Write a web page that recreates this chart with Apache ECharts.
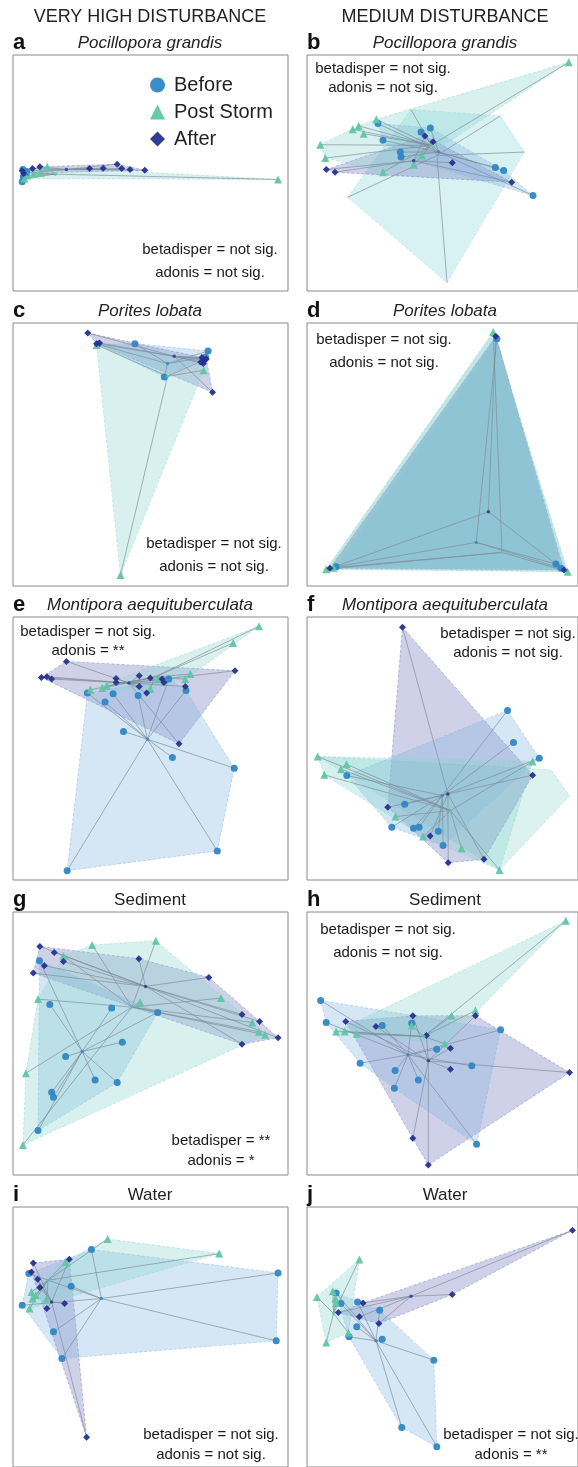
<!DOCTYPE html>
<html>
<head>
<meta charset="utf-8">
<script src="https://cdn.jsdelivr.net/npm/echarts@6/dist/echarts.min.js"></script>
<style>
  html, body { margin: 0; padding: 0; background: #fff; }
  #chart { width: 578px; height: 1467px; }
</style>
</head>
<body>
<div id="chart"></div>
<script>
// ordination scores, one set per panel (x right, y down)
// centroid arrays are in the order Before, Post Storm, After
var aBefore = [[62,508],[60,545],[66,520],[72,514],[63,530]];
var aPost = [[755,538],[128,500],[75,526],[92,520],[66,535],[110,518]];
var aAfter = [[60,512],[64,520],[88,505],[108,500],[243,505],[280,504],[318,492],[330,505],[353,508],[393,510]];
var aCent = [[75,522],[150,522],[180,508]];

var bBefore = [[213,205],[228,255],[280,290],[282,305],[342,230],[370,218],[565,336],[590,345],[678,420]];
var bPost = [[785,22],[40,268],[55,308],[137,222],[155,212],[170,235],[208,192],[228,350],[320,328],[345,300]];
var bAfter = [[58,342],[84,350],[354,242],[378,259],[436,322],[614,380]];
var bCent = [[395,290],[372,270],[320,316]];
var bOther = [[122,425],[420,680],[652,290],[580,182],[312,163]];
var bOtherCent = [390,300];

var cBefore = [[265,132],[366,130],[446,230],[565,152],[558,170]];
var cPost = [[327,825],[553,210],[262,134],[548,182]];
var cAfter = [[238,98],[262,130],[270,128],[548,172],[556,180],[552,190],[560,176],[545,185],[577,276]];
var cCent = [[455,190],[455,228],[473,168]];

var dBefore = [[1348,115],[912,800],[1508,792],[1522,805]];
var dPost = [[1338,95],[885,808],[1540,815],[905,803]];
var dAfter = [[1345,108],[895,805],[1530,810]];
var dCent = [[1292,727],[1362,757],[1325,635]];

var eBefore = [[237,310],[285,337],[307,312],[375,317],[458,268],[505,302],[335,425],[468,503],[636,535],[590,783],[182,842]];
var ePost = [[703,110],[633,160],[517,253],[503,268],[432,265],[408,298],[290,288],[278,295],[245,300]];
var eAfter = [[180,215],[112,263],[127,261],[140,268],[315,266],[315,278],[378,258],[378,290],[408,265],[440,268],[445,278],[503,290],[398,310],[486,462],[638,243]];
var eCent = [[400,448],[420,262],[350,280]];

var fBefore = [[1377,362],[1393,458],[1463,505],[941,557],[1098,643],[1063,712],[1122,715],[1137,712],[1189,724],[1202,767]];
var fPost = [[862,500],[925,538],[940,523],[880,555],[1445,515],[1073,680],[1148,740],[1252,775],[1355,840]];
var fAfter = [[1092,113],[1445,556],[1052,652],[1167,738],[1216,818],[1313,808]];
var fCent = [[1200,617],[1222,662],[1215,612]];
var fOther = [[862,500],[1495,540],[1545,618],[1355,840]];

var gBefore = [[107,243],[135,374],[303,385],[428,398],[332,487],[178,530],[258,600],[318,608],[140,637],[145,652],[103,752]];
var gPost = [[250,196],[423,183],[172,228],[103,358],[380,367],[600,355],[685,428],[703,456],[720,465],[70,580],[62,795]];
var gAfter = [[108,200],[147,218],[172,245],[120,258],[90,280],[377,237],[567,293],[657,404],[705,425],[755,474],[657,493]];
var gCent = [[223,515],[358,382],[395,320]];

var hBefore = [[870,362],[885,428],[1037,437],[1117,430],[1358,450],[1185,508],[1280,558],[977,550],[1072,572],[1135,600],[1070,625],[1293,793]];
var hPost = [[1535,123],[1290,392],[1225,408],[1117,437],[912,455],[935,455],[968,462],[1207,492]];
var hAfter = [[938,425],[1020,440],[1120,408],[1290,408],[1157,467],[1222,505],[1222,568],[1545,578],[1120,775],[1162,855]];
var hCent = [[1107,525],[1150,470],[1162,543]];

var iBefore = [[248,208],[78,280],[193,318],[60,375],[755,278],[750,482],[145,455],[168,535]];
var iPost = [[292,176],[595,220],[178,245],[85,335],[88,355],[80,385],[97,345],[127,355]];
var iAfter = [[90,248],[188,237],[85,275],[102,297],[108,322],[175,370],[127,385],[235,772]];
var iCent = [[275,355],[130,300],[140,365]];

var jBefore = [[912,338],[970,365],[925,370],[1030,390],[968,440],[947,470],[1037,477],[1177,540],[1090,742],[1185,800]];
var jPost = [[975,238],[860,350],[903,333],[910,355],[912,368],[945,458],[885,487]];
var jAfter = [[1553,150],[1227,343],[985,368],[918,397],[975,410],[1028,430]];
var jCent = [[1020,482],[905,400],[1115,348]];

var groupNames = ['Before', 'Post Storm', 'After'];
var columnTitles = ['VERY HIGH DISTURBANCE', 'MEDIUM DISTURBANCE'];
var panelTitles = ['Pocillopora grandis', 'Porites lobata', 'Montipora aequituberculata', 'Sediment', 'Water'];
var statsLines = {
  a: ['betadisper = not sig.', 'adonis = not sig.'],
  b: ['betadisper = not sig.', 'adonis = not sig.'],
  c: ['betadisper = not sig.', 'adonis = not sig.'],
  d: ['betadisper = not sig.', 'adonis = not sig.'],
  e: ['betadisper = not sig.', 'adonis = **'],
  f: ['betadisper = not sig.', 'adonis = not sig.'],
  g: ['betadisper = **', 'adonis = *'],
  h: ['betadisper = not sig.', 'adonis = not sig.'],
  i: ['betadisper = not sig.', 'adonis = not sig.'],
  j: ['betadisper = not sig.', 'adonis = **']
};

var panelData = {
  a: [aBefore, aPost, aAfter, aCent],
  b: [bBefore, bPost, bAfter, bCent],
  c: [cBefore, cPost, cAfter, cCent],
  d: [dBefore, dPost, dAfter, dCent],
  e: [eBefore, ePost, eAfter, eCent],
  f: [fBefore, fPost, fAfter, fCent],
  g: [gBefore, gPost, gAfter, gCent],
  h: [hBefore, hPost, hAfter, hCent],
  i: [iBefore, iPost, iAfter, iCent],
  j: [jBefore, jPost, jAfter, jCent]
};

// layout of the 5x2 panel grid
var colLeft = [13, 307], colWidth = [275, 271];
var rowTop = [55, 323, 617, 912, 1207], rowHeight = [236, 263, 263, 263, 260];
var panels = [
  { key: 'a', col: 0, row: 0, ext: [35, 782, 165, 872], stats: [210, 250, 273] },
  { key: 'b', col: 1, row: 0, ext: [0, 813, 0, 705], stats: [383, 69, 88] },
  { key: 'c', col: 0, row: 1, ext: [35, 782, 68, 858], stats: [214, 544, 567] },
  { key: 'd', col: 1, row: 1, ext: [833, 1568, 68, 858], stats: [384, 340, 363], alpha: 0.55 },
  { key: 'e', col: 0, row: 2, ext: [35, 782, 82, 870], stats: [88, 632, 651] },
  { key: 'f', col: 1, row: 2, ext: [833, 1568, 82, 870], stats: [508, 634, 653] },
  { key: 'g', col: 0, row: 3, ext: [35, 782, 97, 885], stats: [221, 1141, 1161] },
  { key: 'h', col: 1, row: 3, ext: [833, 1568, 97, 885], stats: [388, 930, 953] },
  { key: 'i', col: 0, row: 4, ext: [35, 782, 80, 861], stats: [211, 1435, 1455] },
  { key: 'j', col: 1, row: 4, ext: [833, 1568, 80, 861], stats: [511, 1435, 1455] }
];

var styles = [
  { symbol: 'circle', size: 7, color: '#2f87c4', hull: '#7fb3e0' },
  { symbol: 'triangle', size: 8, color: '#5fc5a5', hull: '#8ad3cf' },
  { symbol: 'diamond', size: 7, color: '#26318f', hull: '#6c72b8' }
];
var hullOrder = [2, 0, 1]; // After underneath, Post Storm on top
var font = 'Liberation Sans, Arial, sans-serif';

function rgba(hex, a) {
  var n = parseInt(hex.slice(1), 16);
  return 'rgba(' + (n >> 16) + ',' + ((n >> 8) & 255) + ',' + (n & 255) + ',' + a + ')';
}

function convexHull(points) {
  var p = points.slice().sort(function (a, b) { return a[0] - b[0] || a[1] - b[1]; });
  if (p.length < 3) return p;
  function cross(o, a, b) { return (a[0] - o[0]) * (b[1] - o[1]) - (a[1] - o[1]) * (b[0] - o[0]); }
  var lower = [], upper = [];
  for (var i = 0; i < p.length; i++) {
    while (lower.length >= 2 && cross(lower[lower.length - 2], lower[lower.length - 1], p[i]) <= 0) lower.pop();
    lower.push(p[i]);
  }
  for (var k = p.length - 1; k >= 0; k--) {
    while (upper.length >= 2 && cross(upper[upper.length - 2], upper[upper.length - 1], p[k]) <= 0) upper.pop();
    upper.push(p[k]);
  }
  upper.pop(); lower.pop();
  return lower.concat(upper);
}

function hullSeries(idx, pts, color, alpha) {
  var hull = convexHull(pts);
  return {
    type: 'custom', xAxisIndex: idx, yAxisIndex: idx, silent: true, z: 1,
    data: [hull[0]],
    renderItem: function (params, api) {
      return {
        type: 'polygon',
        shape: { points: hull.map(function (p) { return api.coord(p); }) },
        style: { fill: rgba(color, alpha), stroke: rgba(color, 0.55), lineWidth: 0.8, lineDash: [3, 2] }
      };
    }
  };
}

function spiderSeries(idx, pts, cent) {
  return {
    type: 'custom', xAxisIndex: idx, yAxisIndex: idx, silent: true, z: 2,
    data: pts,
    renderItem: function (params, api) {
      var a = api.coord([api.value(0), api.value(1)]);
      var c = api.coord(cent);
      return {
        type: 'line',
        shape: { x1: a[0], y1: a[1], x2: c[0], y2: c[1] },
        style: { stroke: '#7f8c99', lineWidth: 0.8, opacity: 0.85 }
      };
    }
  };
}

var grids = [], xAxes = [], yAxes = [], series = [], graphics = [];

panels.forEach(function (p, idx) {
  grids.push({
    left: colLeft[p.col], top: rowTop[p.row], width: colWidth[p.col], height: rowHeight[p.row],
    show: true, borderColor: '#8a8a8a', borderWidth: 1, backgroundColor: 'transparent'
  });
  xAxes.push({ type: 'value', gridIndex: idx, min: p.ext[0], max: p.ext[1], show: false });
  yAxes.push({ type: 'value', gridIndex: idx, min: p.ext[2], max: p.ext[3], inverse: true, show: false });

  var d = panelData[p.key];
  var alpha = p.alpha || 0.33;

  if (p.key === 'b') {
    series.push(hullSeries(idx, bOther, '#8fd8dc', 0.35));
    series.push(spiderSeries(idx, bOther, bOtherCent));
  }
  if (p.key === 'f') {
    series.push(hullSeries(idx, fOther, '#8ad3cf', 0.3));
  }
  hullOrder.forEach(function (g) {
    series.push(hullSeries(idx, d[g], styles[g].hull, alpha));
  });
  for (var g = 0; g < 3; g++) {
    series.push(spiderSeries(idx, d[g], d[3][g]));
  }
  for (g = 0; g < 3; g++) {
    series.push({
      type: 'scatter', name: groupNames[g], xAxisIndex: idx, yAxisIndex: idx, z: 3, silent: true,
      symbol: styles[g].symbol, symbolSize: styles[g].size, data: d[g],
      itemStyle: { color: styles[g].color, opacity: 0.95 }
    });
  }
  series.push({
    type: 'scatter', xAxisIndex: idx, yAxisIndex: idx, z: 3, silent: true,
    symbol: 'circle', symbolSize: 3.5,
    data: d[3].map(function (c, g) { return { value: c, itemStyle: { color: styles[g].color } }; })
  });

  // panel letter and title
  var ty = rowTop[p.row] - 12;
  graphics.push({
    type: 'text', x: colLeft[p.col], y: ty, silent: true,
    style: { text: p.key, font: 'bold 22px ' + font, fill: '#111', textVerticalAlign: 'middle' }
  });
  graphics.push({
    type: 'text', x: p.col ? 445 : 150, y: ty, silent: true,
    style: {
      text: panelTitles[p.row], fill: '#222', textAlign: 'center', textVerticalAlign: 'middle',
      font: (p.row < 3 ? 'italic ' : '') + '17px ' + font
    }
  });
  var st = statsLines[p.key];
  for (var l = 0; l < 2; l++) {
    graphics.push({
      type: 'text', x: p.stats[0], y: p.stats[1 + l], silent: true,
      style: { text: st[l], fill: '#1a1a1a', textAlign: 'center', textVerticalAlign: 'middle', font: '15px ' + font }
    });
  }
});

graphics.push({
  type: 'text', x: 150, y: 17, silent: true,
  style: { text: columnTitles[0], fill: '#222', textAlign: 'center', textVerticalAlign: 'middle', font: '18px ' + font }
});
graphics.push({
  type: 'text', x: 445, y: 17, silent: true,
  style: { text: columnTitles[1], fill: '#222', textAlign: 'center', textVerticalAlign: 'middle', font: '18px ' + font }
});

var myChart = echarts.init(document.getElementById('chart'));
var option = {
  animation: false,
  backgroundColor: '#fff',
  legend: {
    data: groupNames,
    orient: 'vertical',
    left: 145, top: 70,
    itemWidth: 15, itemHeight: 15, itemGap: 7,
    selectedMode: false,
    textStyle: { fontSize: 20, lineHeight: 20, color: '#222', fontFamily: font, padding: [0, 0, 0, 4] }
  },
  grid: grids,
  xAxis: xAxes,
  yAxis: yAxes,
  series: series,
  graphic: graphics
};
myChart.setOption(option);
window.addEventListener('resize', function () {
  myChart.resize();
});
</script>
</body>
</html>
